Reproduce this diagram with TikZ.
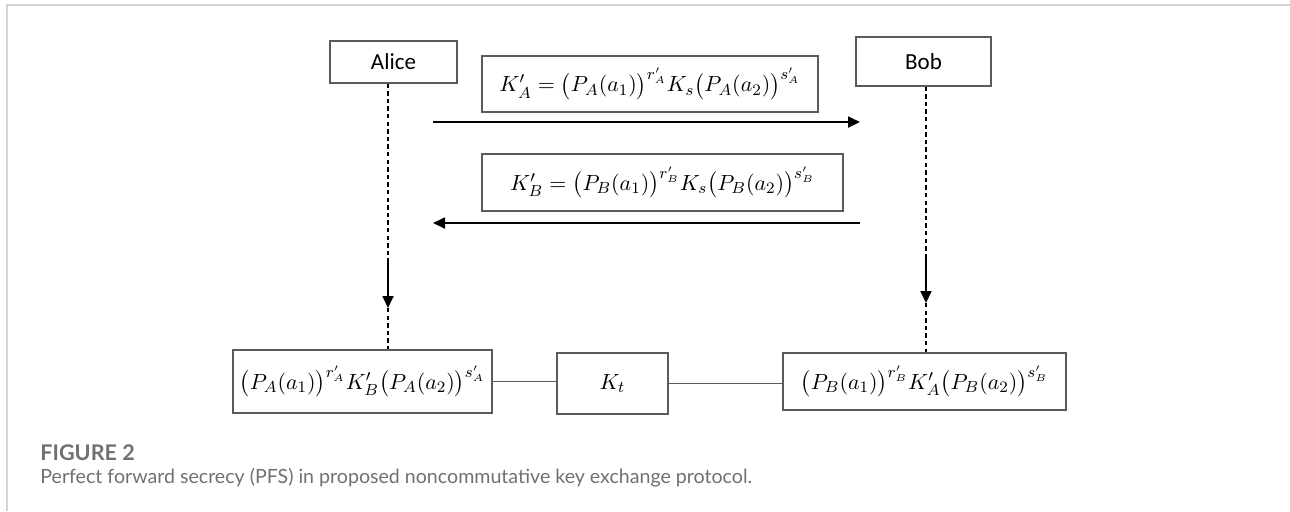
\documentclass[tikz,border=0pt]{standalone}
\usepackage{fontspec}
\usepackage{amsmath}
\newfontfamily\carl{Carlito}
\newfontfamily\capfont{Lato}
\usetikzlibrary{arrows.meta}
\definecolor{framegray}{HTML}{D4D4D4}
\definecolor{boxgray}{HTML}{5A5A5A}
\definecolor{capgray}{HTML}{707070}
\begin{document}
\begin{tikzpicture}[x=0.5pt,y=-0.5pt,
  pbox/.style={draw=boxgray,line width=0.6pt,inner sep=0pt,anchor=center},
  life/.style={line width=0.75pt,dash pattern=on 2.2pt off 1.6pt},
  msg/.style={line width=0.9pt,-{Triangle[length=6pt,width=5.5pt]}},
  link/.style={draw=boxgray,line width=0.8pt},
  mathtxt/.style={font=\fontsize{10.8}{13}\selectfont}]
\useasboundingbox (0,0) rectangle (1290,511);
% frame
\draw[framegray,line width=0.6pt] (7,511) -- (7,5) -- (1290,5);
% actors
\node[pbox,minimum width=63.5pt,minimum height=21pt,font=\carl\fontsize{11.5}{13}\selectfont] (alice) at (393.5,62) {Alice};
\node[pbox,minimum width=67.5pt,minimum height=24.5pt,font=\carl\fontsize{11.5}{13}\selectfont] (bob) at (923.5,61.5) {Bob};
% message boxes
\node[pbox,mathtxt,minimum width=168pt,minimum height=28pt] (boxA) at (650,84)
  {$K'_A=\bigl(P_A(a_1)\bigr)^{r'_A}K_s\bigl(P_A(a_2)\bigr)^{s'_A}$};
\node[pbox,mathtxt,minimum width=180.5pt,minimum height=28.5pt] (boxB) at (662.5,182.5)
  {$K'_B=\bigl(P_B(a_1)\bigr)^{r'_B}K_s\bigl(P_B(a_2)\bigr)^{s'_B}$};
% result boxes
\node[pbox,mathtxt,minimum width=129.5pt,minimum height=31.5pt] (lbox) at (362.5,381.5)
  {$\bigl(P_A(a_1)\bigr)^{r'_A}K'_B\bigl(P_A(a_2)\bigr)^{s'_A}$};
\node[pbox,mathtxt,minimum width=55.5pt,minimum height=30.5pt] (kt) at (612.5,383.5) {$K_t$};
\node[pbox,mathtxt,minimum width=141.5pt,minimum height=28.5pt] (rbox) at (924.5,381.5)
  {$\bigl(P_B(a_1)\bigr)^{r'_B}K'_A\bigl(P_B(a_2)\bigr)^{s'_B}$};
% coordinates
\coordinate (m1s) at (433,122);
\coordinate (m1e) at (860,122);
\coordinate (m2s) at (860,223);
\coordinate (m2e) at (433,223);
\coordinate (aS) at (388,259);
\coordinate (aE) at (388,308);
\coordinate (bS) at (926,255);
\coordinate (bE) at (926,303);
% lifelines
\draw[life] (alice.south -| aS) -- (aS);
\draw[msg] (aS) -- (aE);
\draw[life] (aE) -- (aE |- lbox.north);
\draw[life] (bob.south -| bS) -- (bS);
\draw[msg] (bS) -- (bE);
\draw[life] (bE) -- (bE |- rbox.north);
% messages
\draw[msg] (m1s) -- (m1e);
\draw[msg] (m2s) -- (m2e);
% links
\draw[link] (lbox.east) -- (lbox.east -| kt.west);
\draw[link] (kt.east) -- (kt.east -| rbox.west);
% caption
\node[anchor=base west,inner sep=0pt,text=capgray,font=\capfont\bfseries\fontsize{10.8}{12}\selectfont] (fig) at (40,460) {FIGURE 2};
\node[anchor=base west,inner sep=0pt,text=capgray,font=\capfont\fontsize{9.8}{12}\selectfont] (cap) at (40,483) {Perfect forward secrecy (PFS) in proposed noncommutative key exchange protocol.};
\end{tikzpicture}
\end{document}
